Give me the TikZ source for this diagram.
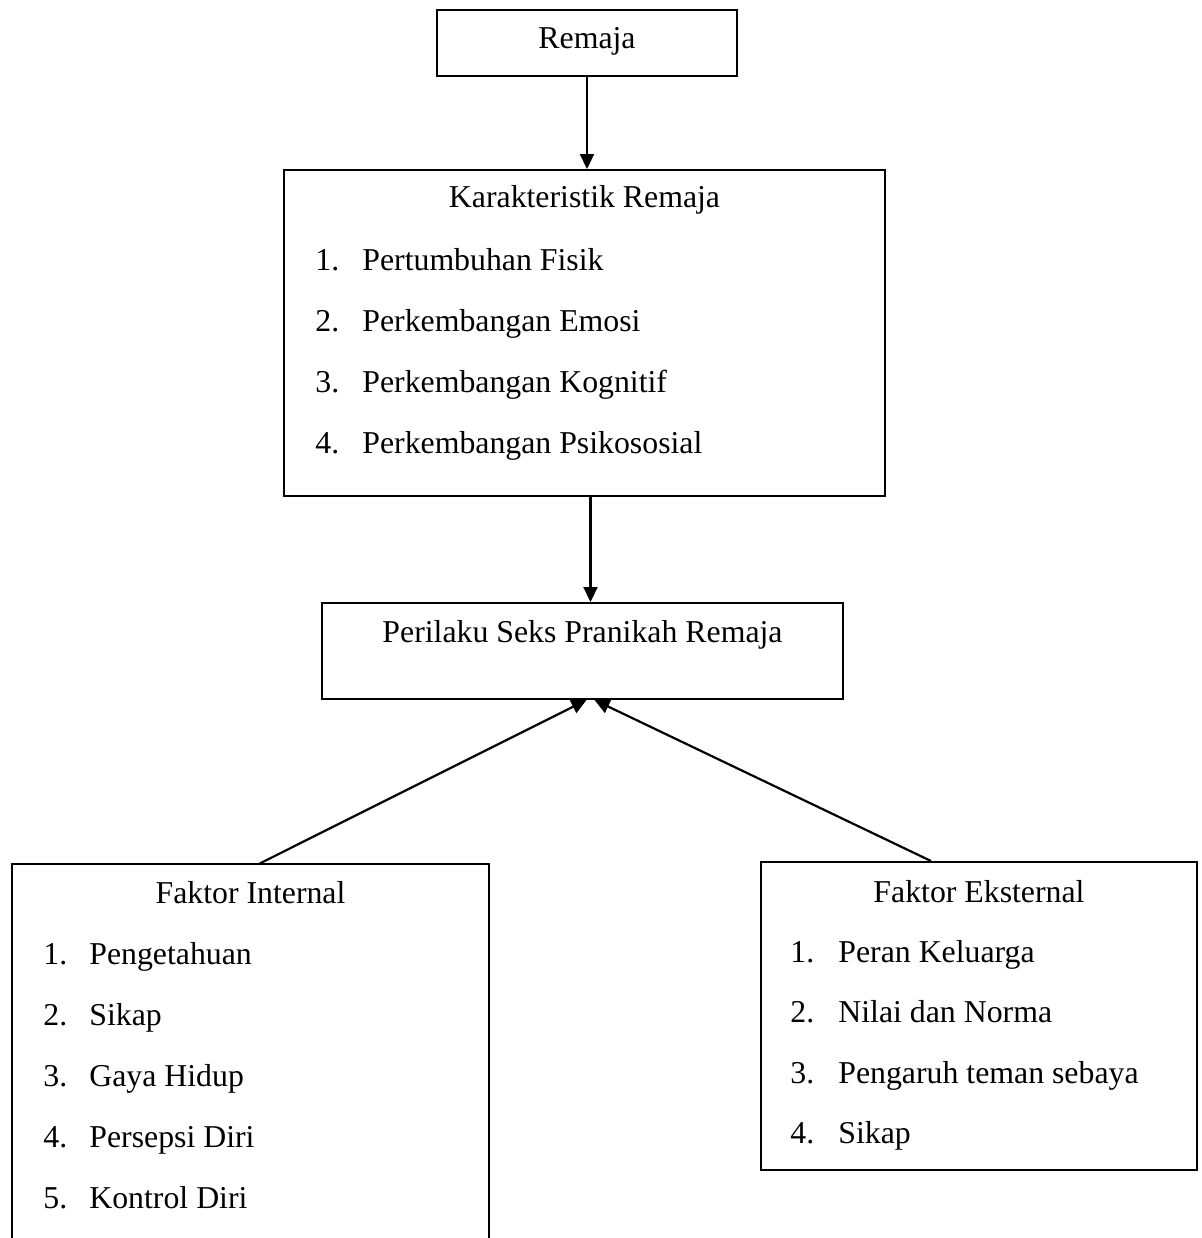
\documentclass[tikz,border=0pt]{standalone}
\usepackage{fontspec}
\setmainfont{Liberation Serif}
\usepackage{tikz}
\usetikzlibrary{arrows.meta, positioning, fit, calc}

\begin{document}
\begin{tikzpicture}[
    x=0.5pt, y=-0.5pt,
    box/.style={draw, line width=1pt, inner sep=0pt},
    title/.style={anchor=base, inner sep=0pt, font=\fontsize{15.9}{19}\selectfont},
    item/.style={anchor=base west, inner sep=0pt, font=\fontsize{15.9}{19}\selectfont},
    arrow/.style={-{Triangle[length=7.5pt, width=7pt]}, line width=1.1pt}
]
\useasboundingbox (0,0) rectangle (1202,1238);

% Boxes
\node[box, fit={(437,10) (737,76)}] (remaja) {};
\node[box, fit={(284,170) (885,496)}] (karakter) {};
\node[box, fit={(322,603) (843,699)}] (perilaku) {};
\node[inner sep=0pt, fit={(12,864) (489,1238)}] (internal) {};
\node[box, fit={(761,862) (1197,1170)}] (eksternal) {};
\draw[line width=1pt] (internal.south west) |- (internal.north east) -- (internal.south east);

% Titles
\node[title] (remajaTxt) at (587,48) {Remaja};
\node[title] (karakterTxt) at (584.5,207) {Karakteristik Remaja};
\node[title] (perilakuTxt) at (582.5,642) {Perilaku Seks Pranikah Remaja};
\node[title] (internalTxt) at (250.5,903) {Faktor Internal};
\node[title] (eksternalTxt) at (979,902) {Faktor Eksternal};

% Karakteristik items
\node[item] (k1) at (315,270) {\makebox[23.5pt][l]{1.}Pertumbuhan Fisik};
\node[item] (k2) at (315,331) {\makebox[23.5pt][l]{2.}Perkembangan Emosi};
\node[item] (k3) at (315,392) {\makebox[23.5pt][l]{3.}Perkembangan Kognitif};
\node[item] (k4) at (315,453) {\makebox[23.5pt][l]{4.}Perkembangan Psikososial};

% Internal items
\node[item] (i1) at (43,964) {\makebox[23pt][l]{1.}Pengetahuan};
\node[item] (i2) at (43,1025) {\makebox[23pt][l]{2.}Sikap};
\node[item] (i3) at (43,1086) {\makebox[23pt][l]{3.}Gaya Hidup};
\node[item] (i4) at (43,1147) {\makebox[23pt][l]{4.}Persepsi Diri};
\node[item] (i5) at (43,1208) {\makebox[23pt][l]{5.}Kontrol Diri};

% Eksternal items
\node[item] (e1) at (790,962) {\makebox[24pt][l]{1.}Peran Keluarga};
\node[item] (e2) at (790,1022.5) {\makebox[24pt][l]{2.}Nilai dan Norma};
\node[item] (e3) at (790,1083) {\makebox[24pt][l]{3.}Pengaruh teman sebaya};
\node[item] (e4) at (790,1143.5) {\makebox[24pt][l]{4.}Sikap};

% Arrows
\draw[arrow] (remaja.south) -- (remaja.south |- karakter.north);
\draw[arrow] ($(karakter.south)+(6,0)$) -- ($(perilaku.north)+(8,0)$);
\draw[arrow] ($(internal.north)+(9,0)$) -- ($(perilaku.south)+(4,0)$);
\draw[arrow] ($(eksternal.north)+(-48,0)$) -- ($(perilaku.south)+(12,0)$);

\end{tikzpicture}
\end{document}
